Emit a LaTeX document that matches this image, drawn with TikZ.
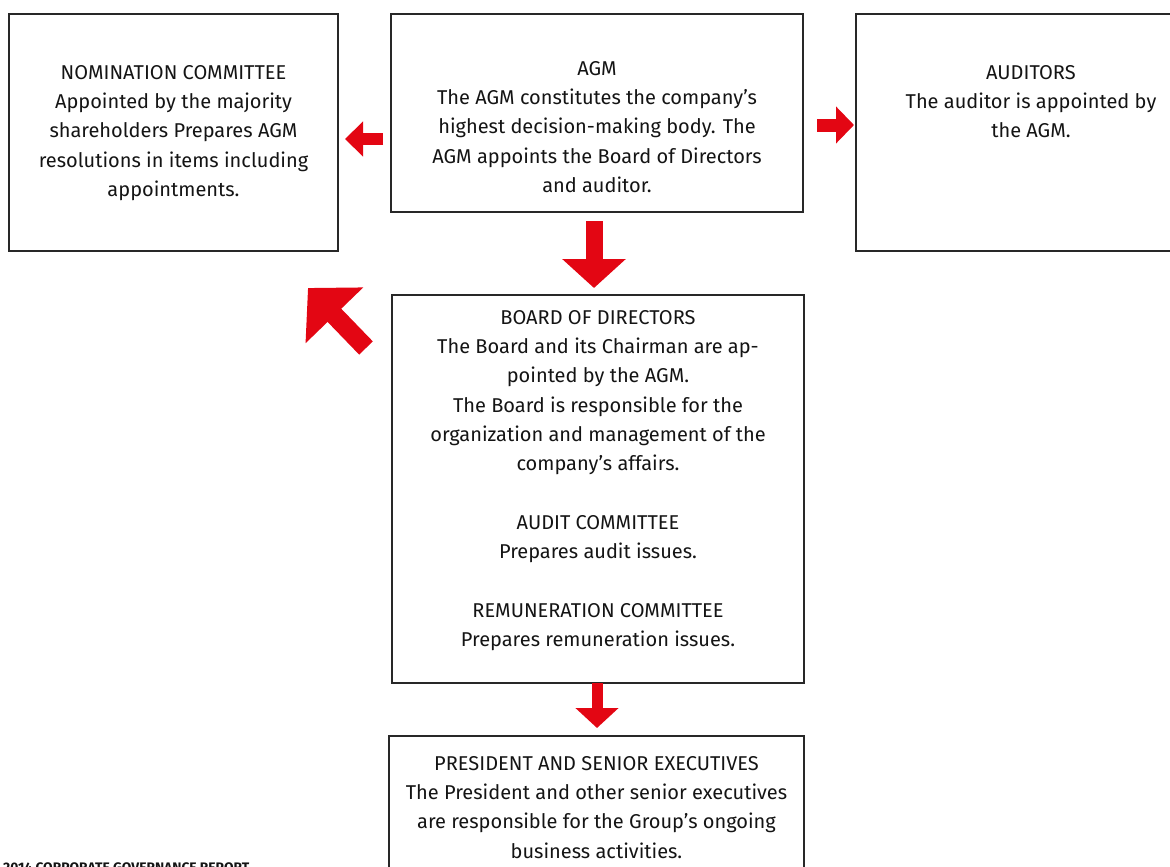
\documentclass[tikz,border=0pt]{standalone}
\usepackage{fontspec}
\setmainfont{Fira Sans}
\usetikzlibrary{arrows.meta}
\definecolor{arrowred}{RGB}{227,6,19}
\definecolor{boxline}{RGB}{40,40,40}
\definecolor{txt}{RGB}{20,20,20}
\begin{document}
\begin{tikzpicture}[x=1pt,y=-1pt,
  box/.style={draw=boxline, line width=1.3pt, minimum width=#1, inner sep=0pt},
  label/.style={align=center, anchor=north, inner sep=0pt, text=txt,
    font=\fontsize{20}{29.3}\selectfont},
  blockarrow/.style n args={3}{draw=arrowred, line width=#1, line cap=butt,
    -{Triangle[length=#2, width=#3]}, arrowred}
]
\useasboundingbox (0,0) rectangle (1170,867);
% boxes
\node[box=329pt, minimum height=237pt] (nom) at (173.5,132.5) {};
\node[box=412pt, minimum height=198pt] (agm) at (597,113) {};
\node[box=350pt, minimum height=237pt] (aud) at (1031,132.5) {};
\node[box=412pt, minimum height=388pt] (board) at (598,489) {};
\node[box=415pt, minimum height=164pt] (pres) at (596.5,818) {};
% texts
\node[label] (nomtext) at (173.5,65) {NOMINATION COMMITTEE\\Appointed by the majority\\shareholders Prepares AGM\\resolutions in items including\\appointments.};
\node[label] (agmtext) at (597,61) {AGM\\The AGM constitutes the company’s\\highest decision-making body. The\\AGM appoints the Board of Directors\\and auditor.};
\node[label] (audtext) at (1031,65) {AUDITORS\\The auditor is appointed by\\the AGM.};
\node[label] (boardtext) at (598,310) {BOARD OF DIRECTORS\\The Board and its Chairman are ap-\\pointed by the AGM.\\The Board is responsible for the\\organization and management of the\\company’s affairs.\\[29.3pt]AUDIT COMMITTEE\\Prepares audit issues.\\[29.3pt]REMUNERATION COMMITTEE\\Prepares remuneration issues.};
\node[label] (prestext) at (596.5,756) {PRESIDENT AND SENIOR EXECUTIVES\\The President and other senior executives\\are responsible for the Group’s ongoing\\business activities.};
\node[anchor=north west, inner sep=0pt, text=txt, font=\fontsize{13.8}{14}\selectfont\bfseries] (footer) at (3,862.5) {2014 CORPORATE GOVERNANCE REPORT};
% arrows
\coordinate (a1s) at (383,139); \coordinate (a1e) at (345,139);
\coordinate (a2s) at (817,125); \coordinate (a2e) at (854,125);
\coordinate (a3s) at (594,221); \coordinate (a3e) at (594,288);
\coordinate (a4s) at (597,683); \coordinate (a4e) at (597,728);
\coordinate (a5s) at (366,348); \coordinate (a5e) at (308,288);
\draw[blockarrow={12pt}{18pt}{34pt}] (a1s) -- (a1e);
\draw[blockarrow={13pt}{18pt}{36pt}] (a2s) -- (a2e);
\draw[blockarrow={17pt}{29pt}{62pt}] (a3s) -- (a3e);
\draw[blockarrow={11pt}{20pt}{42pt}] (a4s) -- (a4e);
\draw[blockarrow={19pt}{38pt}{78pt}] (a5s) -- (a5e);
\end{tikzpicture}
\end{document}
